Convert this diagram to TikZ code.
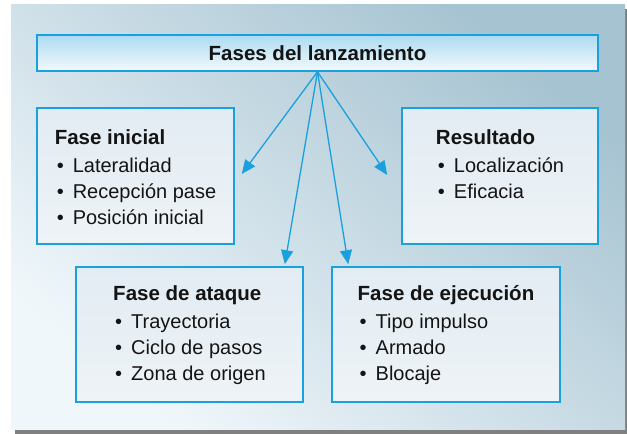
\documentclass[tikz,border=0pt]{standalone}
\usepackage{fontspec}
\setmainfont{Liberation Sans}
\usepackage{xcolor}
\usetikzlibrary{arrows.meta,positioning,shadings}

\definecolor{lineblue}{RGB}{26,160,220}
\definecolor{paneldark}{RGB}{166,195,209}
\definecolor{panellight}{RGB}{240,247,251}
\definecolor{boxtop}{RGB}{226,236,243}
\definecolor{boxbottom}{RGB}{238,243,246}
\definecolor{titletop}{RGB}{172,219,241}
\definecolor{titlebottom}{RGB}{243,249,252}
\definecolor{inktext}{RGB}{20,20,20}

\newcommand{\itm}{\hspace*{2pt}\makebox[16pt][l]{•}}
\newcommand{\hd}[1]{{\bfseries\fontsize{20.5}{26}\selectfont #1}}

\begin{document}
\begin{tikzpicture}[x=1pt, y=1pt,
    box/.style={draw=lineblue, line width=1.6pt, top color=boxtop, bottom color=boxbottom, minimum height=136pt},
    lst/.style={align=left, inner sep=0pt, text=inktext, font=\fontsize{20}{26}\selectfont},
    arr/.style={draw=lineblue, line width=1.3pt, -{Triangle[length=14pt,width=12pt]}}]
        \useasboundingbox (0,0) rectangle (627,434);

        % Background
        \fill[black!50] (15,0) rectangle (628,425);
        \shade[top color=paneldark, bottom color=panellight, shading angle=-40] (11,4) rectangle (625,429);

        % Nodes
        \node[box, top color=titletop, bottom color=titlebottom, minimum width=561pt, minimum height=36pt,
              text=inktext, font=\bfseries\fontsize{20.5}{24}\selectfont] (title) at (317.5,381) {Fases del lanzamiento};
        \node[box, minimum width=197pt] (inicial) at (135.5,258) {};
        \node[box, minimum width=196pt] (resultado) at (500,258) {};
        \node[box, minimum width=227pt, minimum height=135pt] (ataque) at (189.5,99.5) {};
        \node[box, minimum width=228pt, minimum height=135pt] (ejecucion) at (446,99.5) {};

        % Lists
        \node[lst, below=22pt of inicial.north] (inicialtxt) {\hd{Fase inicial}\\[2pt] \itm Lateralidad\\ \itm Recepción pase\\ \itm Posición inicial};
        \node[lst, below=22pt of resultado.north] (resultadotxt) {\hd{Resultado}\\[2pt] \itm Localización\\ \itm Eficacia};
        \node[lst, below=19pt of ataque.north] (ataquetxt) {\hd{Fase de ataque}\\[2pt] \itm Trayectoria\\ \itm Ciclo de pasos\\ \itm Zona de origen};
        \node[lst, below=19pt of ejecucion.north] (ejecuciontxt) {\hd{Fase de ejecución}\\[2pt] \itm Tipo impulso\\ \itm Armado\\ \itm Blocaje};

        % Edges
        \draw[arr] (title.south) -- ([shift={(7pt,2pt)}]inicial.east);
        \draw[arr] (title.south) -- ([shift={(-14pt,1pt)}]resultado.west);
        \draw[arr] (title.south) -- ([shift={(-19pt,2pt)}]ataque.north east);
        \draw[arr] (title.south) -- ([shift={(17pt,2pt)}]ejecucion.north west);
\end{tikzpicture}
\end{document}
